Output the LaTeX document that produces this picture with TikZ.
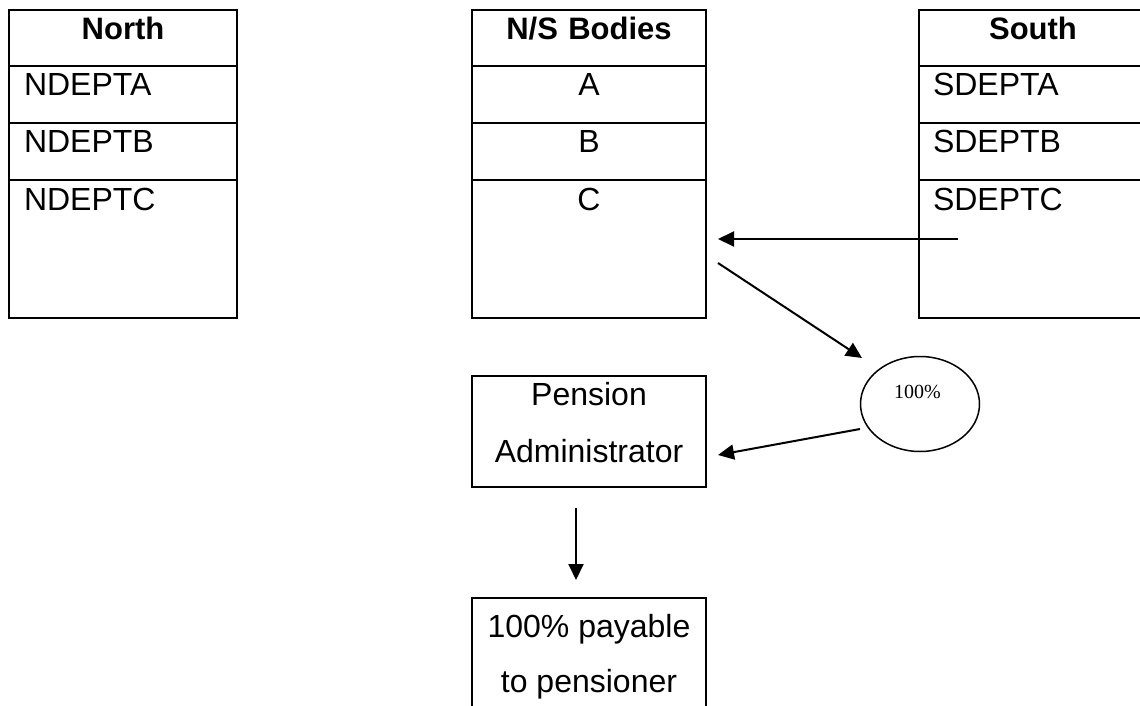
\documentclass[tikz,border=0pt]{standalone}
\usepackage{fontspec}
\setmainfont{Liberation Sans}
\newfontfamily\pctfont{Liberation Serif}
\usetikzlibrary{arrows.meta,shapes.geometric}
\begin{document}
\begin{tikzpicture}[x=1pt,y=-1pt,
  every node/.style={font=\fontsize{32}{38}\selectfont, outer sep=0pt},
  tabcell/.style={draw, line width=2pt, anchor=north west, inner ysep=0pt,
    inner xsep=15pt, text height=30pt, text depth=#1},
  leftcol/.style={text width=198pt, align=left},
  midcol/.style={text width=204pt, align=center},
  rightcol/.style={inner xsep=14pt, text width=200pt, align=left},
  head/.style={font=\fontsize{31}{37}\selectfont\bfseries},
  plainbox/.style={draw, line width=2pt, inner sep=0pt},
  linetext/.style={anchor=base, inner sep=0pt},
  arr/.style={line width=2pt, -{Triangle[length=16pt,width=15pt]}}
]
\useasboundingbox (0,0) rectangle (1140,706);
\clip (0,0) rectangle (1140,706);

% North table
\node[tabcell=26pt, leftcol, head, align=center] (nh) at (9,10) {North};
\node[tabcell=27pt, leftcol] (na) at (9,66) {NDEPTA};
\node[tabcell=27pt, leftcol] (nb) at (9,123) {NDEPTB};
\node[tabcell=108pt, leftcol] (nc) at (9,180) {NDEPTC};

% N/S Bodies table
\node[tabcell=26pt, midcol, head] (mh) at (472,10) {N/S Bodies};
\node[tabcell=27pt, midcol] (ma) at (472,66) {A};
\node[tabcell=27pt, midcol] (mb) at (472,123) {B};
\node[tabcell=108pt, midcol] (mc) at (472,180) {C};

% South table
\node[tabcell=26pt, rightcol, head, align=center] (sh) at (919,10) {South};
\node[tabcell=27pt, rightcol] (sa) at (919,66) {SDEPTA};
\node[tabcell=27pt, rightcol] (sb) at (919,123) {SDEPTB};
\node[tabcell=108pt, rightcol] (sc) at (919,180) {SDEPTC};

% Ellipse
\node[draw, ellipse, line width=1.5pt, minimum width=119pt, minimum height=95pt, inner sep=0pt] (pct) at (920,404) {};
\node[font=\pctfont\fontsize{20}{24}\selectfont, inner sep=0pt] (pcttxt) at (917.5,392) {100\%};

% Pension Administrator box
\node[plainbox, minimum width=234pt, minimum height=111pt] (adm) at (589,431.5) {};
\node[linetext] (admt1) at (589,405) {Pension};
\node[linetext] (admt2) at (589,462) {Administrator};

% Payable box
\node[plainbox, anchor=north, minimum width=234pt, minimum height=130pt] (pay) at (589,598) {};
\node[linetext] (payt1) at (589,637) {100\% payable};
\node[linetext] (payt2) at (589,692) {to pensioner};

% Connector ends
\coordinate (sIn) at (958,239);
\coordinate (mOut) at (718,239);
\coordinate (mStart) at (718,263);
\coordinate (pctIn) at (862,358);
\coordinate (pctOut) at (860,429);
\coordinate (admIn) at (718,455);
\coordinate (admDown) at (576,508);
\coordinate (payIn) at (576,580);

\draw[arr] (sIn) -- (mOut);
\draw[arr] (mStart) -- (pctIn);
\draw[arr] (pctOut) -- (admIn);
\draw[arr] (admDown) -- (payIn);
\end{tikzpicture}
\end{document}
